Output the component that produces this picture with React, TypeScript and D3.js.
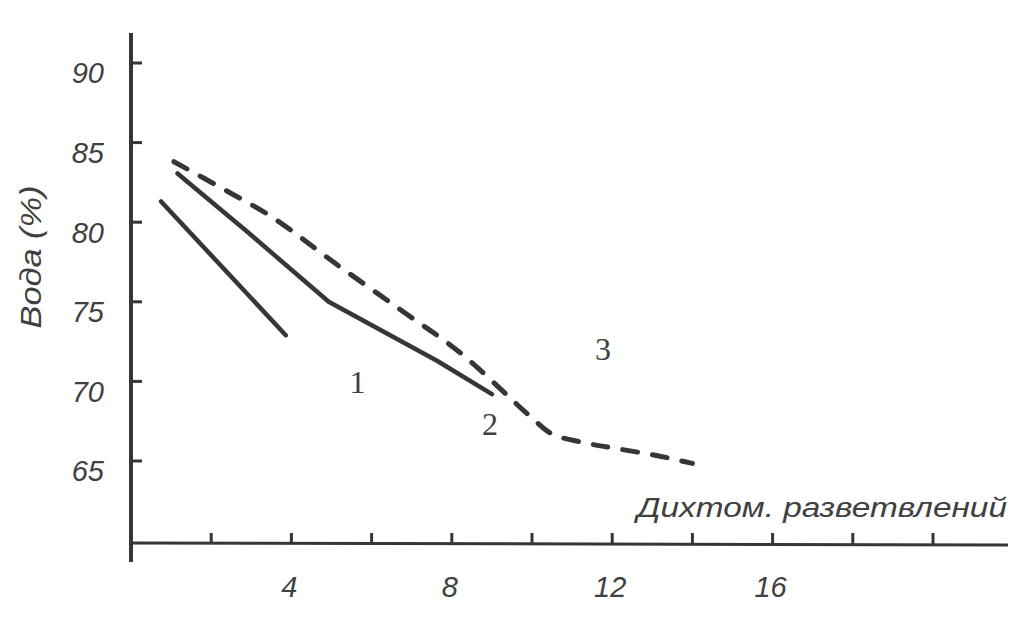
import React from "react";
import * as d3 from "d3";

// Data
const curve1X = [0.75, 3.86];
const curve1Y = [81.3, 72.9];

const curve2X = [1.16, 2.9, 4.93, 7.63, 9.0];
const curve2Y = [83.06, 79.4, 75.0, 71.3, 69.2];

const curve3X = [1.07, 2.29, 3.56, 5.1, 6.72, 8.21, 10.0, 10.5, 11.4, 12.06, 13.1, 14.0];
const curve3Y = [83.8, 82.1, 80.25, 77.4, 74.5, 71.8, 67.7, 66.7, 66.1, 65.8, 65.35, 64.85];

const yTicks = [90, 85, 80, 75, 70, 65];
const xTickMarks = [2, 4, 6, 8, 10, 12, 14, 16, 18, 20];
const xTickLabels = [4, 8, 12, 16];

const curveLabels = ["1", "2", "3"];
const curveLabelX = [5.65, 8.95, 11.77];
const curveLabelY = [69.3, 66.65, 71.35];

const yTitle = "Вода (%)";
const xTitle = "Дихтом. разветвлений";

const W = 1015;
const H = 624;
const INK = "#363636";
const TEXT = "#404040";

export default function App() {
  const x = d3.scaleLinear().domain([0, 20]).range([131, 933]);
  const y = d3.scaleLinear().domain([65, 90]).range([461, 63]);

  const line = d3
    .line<[number, number]>()
    .x((d) => x(d[0]))
    .y((d) => y(d[1]));
  const smooth = d3
    .line<[number, number]>()
    .x((d) => x(d[0]))
    .y((d) => y(d[1]))
    .curve(d3.curveCatmullRom.alpha(0.5));

  const pts = (xs: number[], ys: number[]) => xs.map((v, i) => [v, ys[i]] as [number, number]);

  const axisX = x(0);
  const axisY = 543;
  const sans = "'Liberation Sans', Arial, sans-serif";

  return (
    <svg
      width={W}
      height={H}
      style={{ position: "absolute", left: 0, top: 0, background: "#fff" }}
    >
      <rect width={W} height={H} fill="#fff" />
      {/* Y axis */}
      <line x1={axisX} x2={axisX} y1={33} y2={562} stroke={INK} strokeWidth={4} />
      {yTicks.map((t) => (
        <g key={"yt" + t}>
          <line x1={axisX} x2={axisX + 11} y1={y(t)} y2={y(t)} stroke={INK} strokeWidth={3} />
          <text
            x={104}
            y={y(t) + 10}
            dy="0.36em"
            textAnchor="end"
            fontFamily={sans}
            fontStyle="italic"
            fontSize={29}
            fill={TEXT}
          >
            {t}
          </text>
        </g>
      ))}
      {/* X axis */}
      <line x1={axisX} x2={1008} y1={axisY} y2={axisY + 2} stroke={INK} strokeWidth={3} />
      {xTickMarks.map((t) => (
        <line
          key={"xt" + t}
          x1={x(t)}
          x2={x(t)}
          y1={axisY + 1}
          y2={axisY - 10}
          stroke={INK}
          strokeWidth={3}
        />
      ))}
      {xTickLabels.map((t) => (
        <text
          key={"xl" + t}
          x={x(t) - 2}
          y={587}
          dy="0.36em"
          textAnchor="middle"
          fontFamily={sans}
          fontStyle="italic"
          fontSize={29}
          fill={TEXT}
        >
          {t}
        </text>
      ))}
      {/* Titles */}
      <text
        transform={`translate(41, 257) rotate(-90)`}
        textAnchor="middle"
        fontFamily={sans}
        fontStyle="italic"
        fontSize={29}
        fill={TEXT}
        textLength={143}
        lengthAdjust="spacingAndGlyphs"
      >
        {yTitle}
      </text>
      <text
        x={637}
        y={517}
        fontFamily={sans}
        fontStyle="italic"
        fontSize={27}
        fill={TEXT}
        textLength={370}
        lengthAdjust="spacingAndGlyphs"
      >
        {xTitle}
      </text>
      {/* Curves */}
      <path
        d={line(pts(curve1X, curve1Y)) || ""}
        fill="none"
        stroke={INK}
        strokeWidth={4.5}
        strokeLinecap="round"
      />
      <path
        d={line(pts(curve2X, curve2Y)) || ""}
        fill="none"
        stroke={INK}
        strokeWidth={4.5}
        strokeLinecap="round"
        strokeLinejoin="round"
      />
      <path
        d={smooth(pts(curve3X, curve3Y)) || ""}
        fill="none"
        stroke={INK}
        strokeWidth={5}
        strokeLinecap="round"
        strokeDasharray="15 15"
      />
      {/* Curve labels */}
      {curveLabels.map((l, i) => (
        <text
          key={"cl" + l}
          x={x(curveLabelX[i])}
          y={y(curveLabelY[i])}
          textAnchor="middle"
          fontFamily="'Liberation Serif', 'Times New Roman', serif"
          fontSize={32}
          fill={TEXT}
        >
          {l}
        </text>
      ))}
    </svg>
  );
}
